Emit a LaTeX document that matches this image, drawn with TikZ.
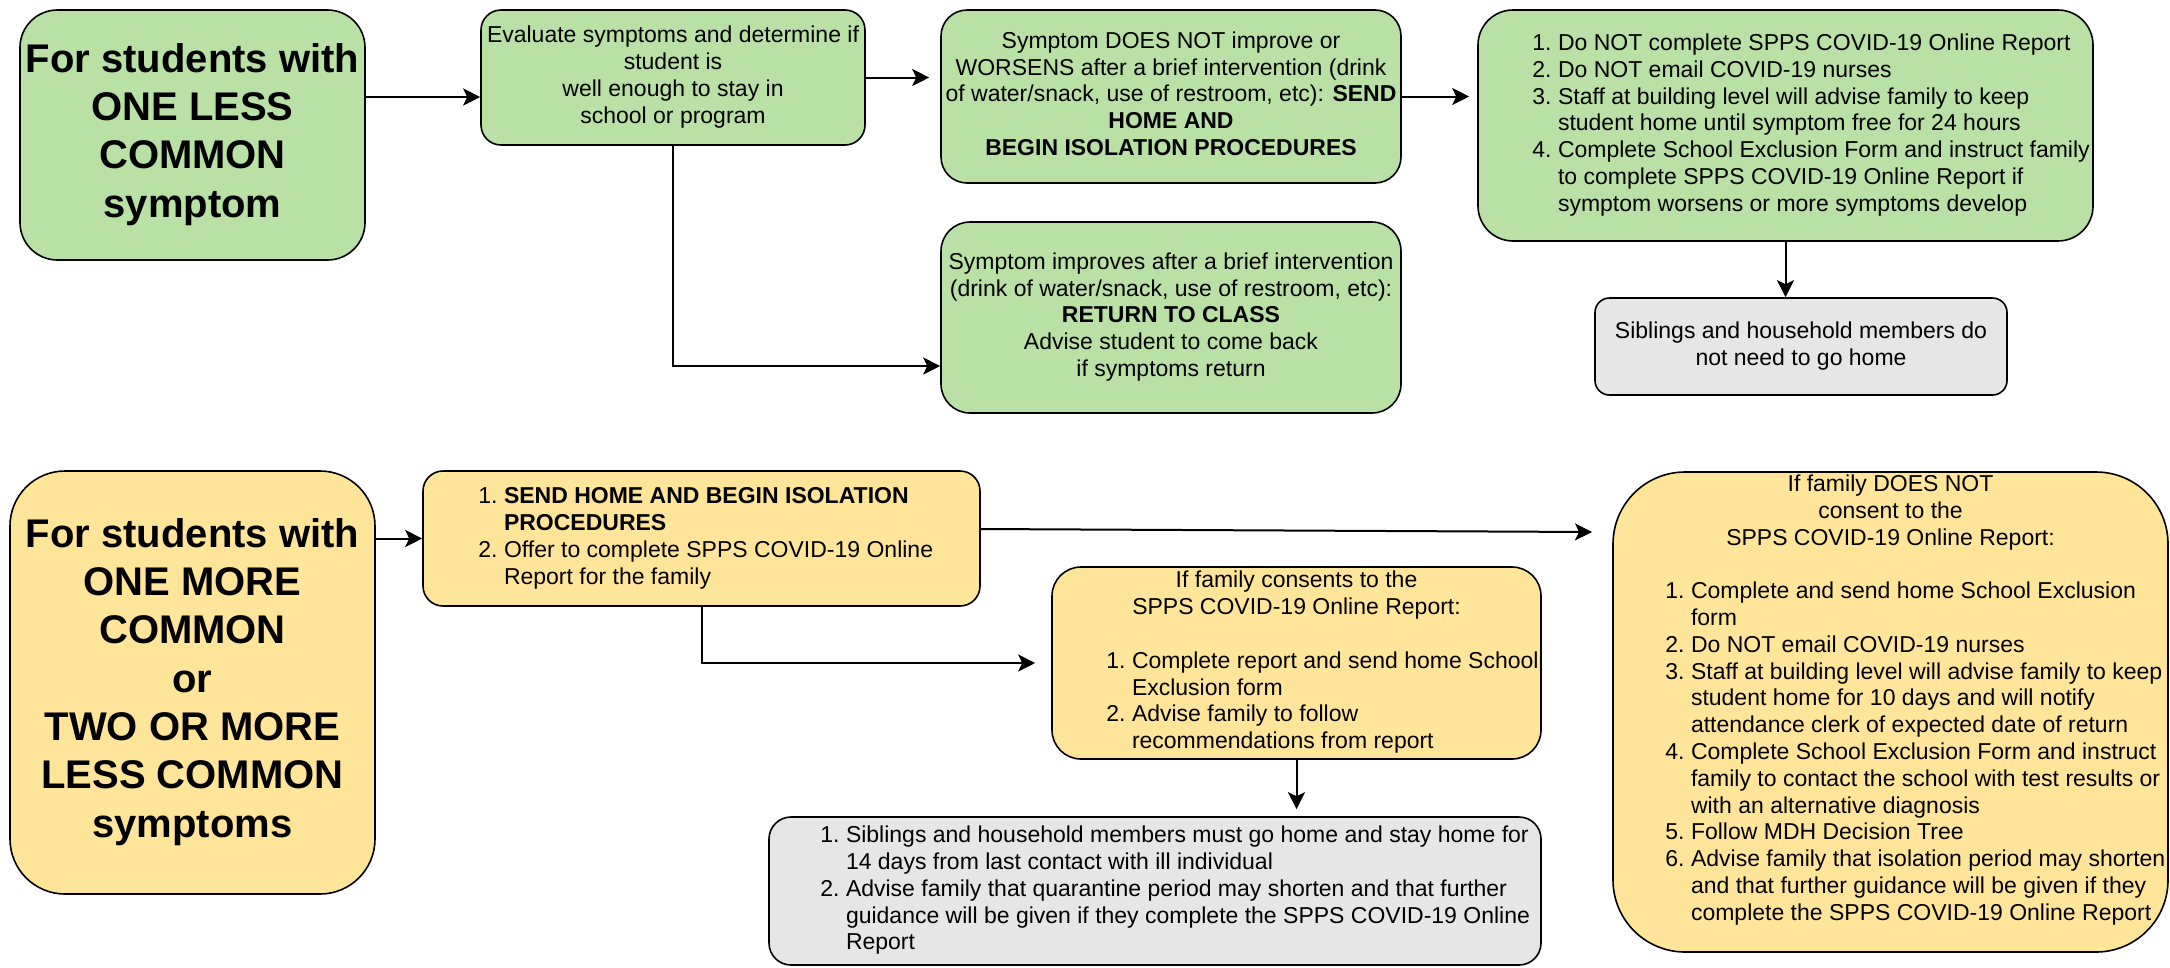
\documentclass[tikz,border=0pt]{standalone}
\usepackage{fontspec}
\setmainfont{Liberation Sans}
\usetikzlibrary{arrows.meta,calc}
\definecolor{gfill}{HTML}{B9E0A5}
\definecolor{yfill}{HTML}{FFE599}
\definecolor{hfill}{HTML}{E6E6E6}
\newcommand\bw{0pt}
\newcommand\lo{79pt}
\newcommand\Lrow[2]{\makebox[\bw][l]{\makebox[\lo][r]{#1\hspace{6.4pt}}#2}}
\newcommand\Crow[1]{\makebox[\bw][c]{#1}}
\newcommand\TS{\rule{0pt}{\dimexpr 0.7\baselineskip+6pt\relax}}
\tikzset{
  box/.style={draw=black, line width=1.6pt, inner sep=0pt},
  small/.style={font=\fontsize{23}{26.8}\selectfont},
  big/.style={font=\fontsize{40}{48.3}\selectfont\bfseries},
  arr/.style={line width=2pt, -{Stealth[length=17pt,width=17pt,inset=4pt]}},
}
\begin{document}
\begin{tikzpicture}[x=1pt,y=-1pt]
\useasboundingbox (0,0) rectangle (2170,967);
\fill[white] (0,0) rectangle (2170,967);

% top row
\node[box, big, fill=gfill, minimum width=345pt, minimum height=250pt, rounded corners=37.5pt] (A) at (192.5,135)
  {\begin{tabular}{@{}c@{}}\TS For students with\\ONE LESS\\COMMON\\symptom\end{tabular}};

\node[box, small, fill=gfill, minimum width=384pt, minimum height=135pt, rounded corners=20pt] (B) at (673,77.5)
  {\begin{tabular}{@{}c@{}}\TS Evaluate symptoms and determine if\\student is\\well enough to stay in\\school or program\end{tabular}};

\node[box, small, fill=gfill, minimum width=460pt, minimum height=173pt, rounded corners=26pt] (C) at (1171,96.5)
  {\begin{tabular}{@{}c@{}}\TS Symptom DOES NOT improve or\\WORSENS after a brief intervention (drink\\of water/snack, use of restroom, etc): \textbf{SEND}\\\textbf{HOME AND}\\\textbf{BEGIN ISOLATION PROCEDURES}\end{tabular}};

\node[box, small, fill=gfill, minimum width=615pt, minimum height=231pt, rounded corners=35pt] (D) at (1785.5,125.5)
  {\renewcommand\bw{615pt}\renewcommand\lo{80pt}\begin{tabular}{@{}l@{}}
   \TS\Lrow{1.}{Do NOT complete SPPS COVID-19 Online Report}\\
   \Lrow{2.}{Do NOT email COVID-19 nurses}\\
   \Lrow{3.}{Staff at building level will advise family to keep}\\
   \Lrow{}{student home until symptom free for 24 hours}\\
   \Lrow{4.}{Complete School Exclusion Form and instruct family}\\
   \Lrow{}{to complete SPPS COVID-19 Online Report if}\\
   \Lrow{}{symptom worsens or more symptoms develop}
  \end{tabular}};

\node[box, small, fill=gfill, minimum width=460pt, minimum height=191pt, rounded corners=29pt] (E) at (1171,317.5)
  {\begin{tabular}{@{}c@{}}\TS Symptom improves after a brief intervention\\(drink of water/snack, use of restroom, etc):\\\textbf{RETURN TO CLASS}\\Advise student to come back\\if symptoms return\end{tabular}};

\node[box, small, fill=hfill, minimum width=412pt, minimum height=97pt, rounded corners=14.5pt] (F) at (1801,346.5)
  {\begin{tabular}{@{}c@{}}\TS Siblings and household members do\\not need to go home\end{tabular}};

% bottom row
\node[box, big, fill=yfill, minimum width=365pt, minimum height=423pt, rounded corners=55pt] (G) at (192.5,682.5)
  {\begin{tabular}{@{}c@{}}\TS For students with\\ONE MORE\\COMMON\\or\\TWO OR MORE\\LESS COMMON\\symptoms\end{tabular}};

\node[box, small, fill=yfill, minimum width=557pt, minimum height=135pt, rounded corners=20pt] (H) at (701.5,538.5)
  {\renewcommand\bw{557pt}\renewcommand\lo{81pt}\begin{tabular}{@{}l@{}}
   \TS\Lrow{1.}{\textbf{SEND HOME AND BEGIN ISOLATION}}\\
   \Lrow{}{\textbf{PROCEDURES}}\\
   \Lrow{2.}{Offer to complete SPPS COVID-19 Online}\\
   \Lrow{}{Report for the family}
  \end{tabular}};

\node[box, small, fill=yfill, minimum width=489pt, minimum height=192pt, rounded corners=29pt] (I) at (1296.5,663)
  {\renewcommand\bw{489pt}\renewcommand\lo{80pt}\begin{tabular}{@{}l@{}}
   \TS\Crow{If family consents to the}\\
   \Crow{SPPS COVID-19 Online Report:}\\
   \Crow{}\\
   \Lrow{1.}{Complete report and send home School}\\
   \Lrow{}{Exclusion form}\\
   \Lrow{2.}{Advise family to follow}\\
   \Lrow{}{recommendations from report}
  \end{tabular}};

\node[box, small, fill=hfill, minimum width=772pt, minimum height=148pt, rounded corners=22pt] (J) at (1155,891)
  {\renewcommand\bw{772pt}\renewcommand\lo{77pt}\begin{tabular}{@{}l@{}}
   \TS\Lrow{1.}{Siblings and household members must go home and stay home for}\\
   \Lrow{}{14 days from last contact with ill individual}\\
   \Lrow{2.}{Advise family that quarantine period may shorten and that further}\\
   \Lrow{}{guidance will be given if they complete the SPPS COVID-19 Online}\\
   \Lrow{}{Report}
  \end{tabular}};

\node[box, small, fill=yfill, minimum width=555pt, minimum height=480pt, rounded corners=72pt] (K) at (1890.5,712)
  {\renewcommand\bw{555pt}\renewcommand\lo{78pt}\begin{tabular}{@{}l@{}}
   \TS\Crow{If family DOES NOT}\\
   \Crow{consent to the}\\
   \Crow{SPPS COVID-19 Online Report:}\\
   \Crow{}\\
   \Lrow{1.}{Complete and send home School Exclusion}\\
   \Lrow{}{form}\\
   \Lrow{2.}{Do NOT email COVID-19 nurses}\\
   \Lrow{3.}{Staff at building level will advise family to keep}\\
   \Lrow{}{student home for 10 days and will notify}\\
   \Lrow{}{attendance clerk of expected date of return}\\
   \Lrow{4.}{Complete School Exclusion Form and instruct}\\
   \Lrow{}{family to contact the school with test results or}\\
   \Lrow{}{with an alternative diagnosis}\\
   \Lrow{5.}{Follow MDH Decision Tree}\\
   \Lrow{6.}{Advise family that isolation period may shorten}\\
   \Lrow{}{and that further guidance will be given if they}\\
   \Lrow{}{complete the SPPS COVID-19 Online Report}\\[-3.7pt]
   \Crow{}
  \end{tabular}};

% connectors
\coordinate (a1) at ($(A.east)+(0,38pt)$);
\draw[arr] (a1) -- (a1 -| B.west);
\coordinate (bC) at ($(B.east -| C.west)+(-11pt,0)$);
\draw[arr] (B.east) -- (bC);
\coordinate (cD) at ($(C.east -| D.west)+(-8pt,0)$);
\draw[arr] (C.east) -- (cD);
\coordinate (eIn) at ($(E.west)+(0,-48.5pt)$);
\draw[arr] (B.south) |- (eIn);
\draw[arr] (D.south) -- (D.south |- F.north);
\draw[arr] (G.east |- H.west) -- (H.west);
\coordinate (h1) at ($(H.east)+(0,9.5pt)$);
\coordinate (Kin) at (1592,532);
\draw[arr] (h1) -- (Kin);
\coordinate (iIn) at ($(I.west)+(-16pt,0)$);
\draw[arr] (H.south) |- (iIn);
\coordinate (jIn) at ($(I.south |- J.north)+(0,7pt)$);
\draw[arr] (I.south) -- (jIn);
\end{tikzpicture}
\end{document}
